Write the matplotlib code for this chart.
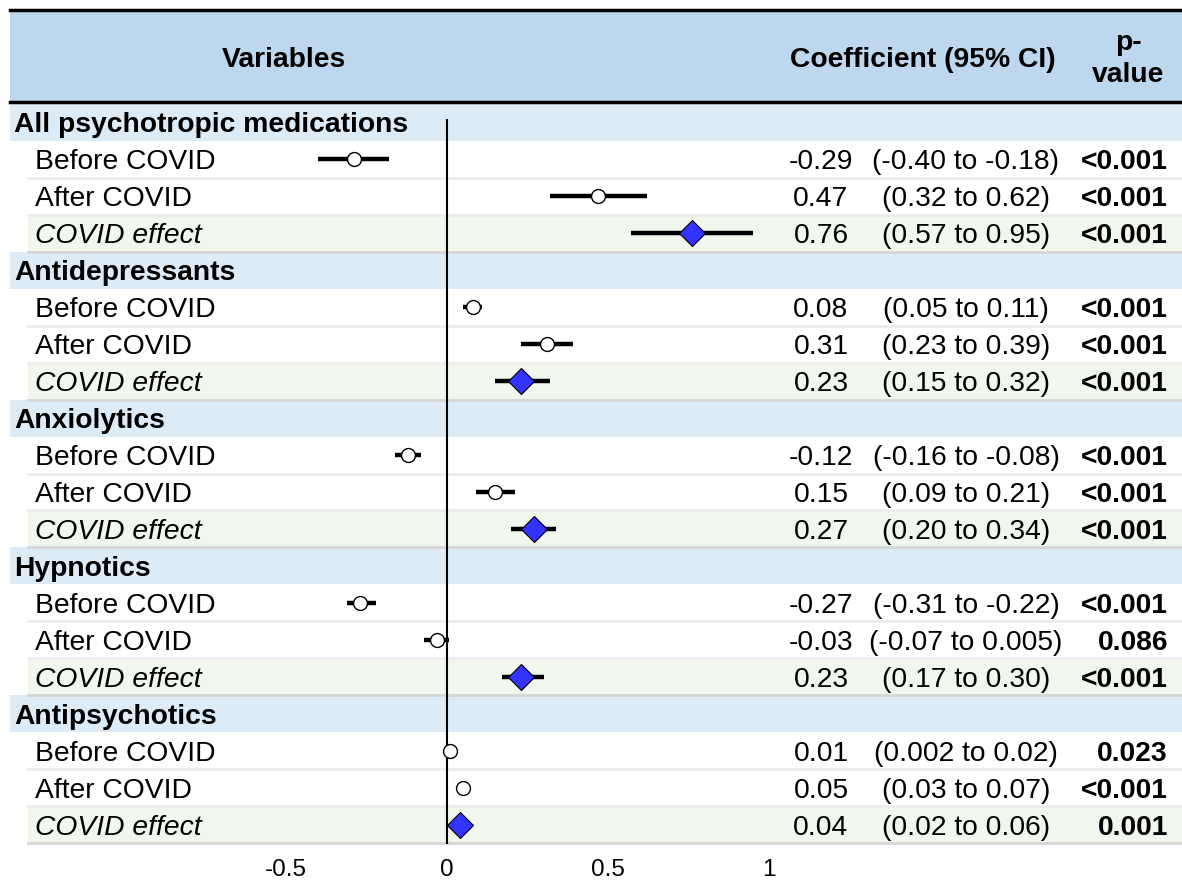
import matplotlib.pyplot as plt
from matplotlib.patches import Rectangle

plt.rcParams['font.family'] = ['Liberation Sans', 'DejaVu Sans']

# data
groups = ["All psychotropic medications", "Antidepressants", "Anxiolytics", "Hypnotics", "Antipsychotics"]
periods = ["Before COVID", "After COVID", "COVID effect"]
coef = [[-0.29, 0.47, 0.76], [0.08, 0.31, 0.23], [-0.12, 0.15, 0.27], [-0.27, -0.03, 0.23], [0.01, 0.05, 0.04]]
lo = [[-0.40, 0.32, 0.57], [0.05, 0.23, 0.15], [-0.16, 0.09, 0.20], [-0.31, -0.07, 0.17], [0.002, 0.03, 0.02]]
hi = [[-0.18, 0.62, 0.95], [0.11, 0.39, 0.32], [-0.08, 0.21, 0.34], [-0.22, 0.005, 0.30], [0.02, 0.07, 0.06]]
coef_txt = [["-0.29", "0.47", "0.76"], ["0.08", "0.31", "0.23"], ["-0.12", "0.15", "0.27"],
            ["-0.27", "-0.03", "0.23"], ["0.01", "0.05", "0.04"]]
ci_txt = [["(-0.40 to -0.18)", "(0.32 to 0.62)", "(0.57 to 0.95)"],
          ["(0.05 to 0.11)", "(0.23 to 0.39)", "(0.15 to 0.32)"],
          ["(-0.16 to -0.08)", "(0.09 to 0.21)", "(0.20 to 0.34)"],
          ["(-0.31 to -0.22)", "(-0.07 to 0.005)", "(0.17 to 0.30)"],
          ["(0.002 to 0.02)", "(0.03 to 0.07)", "(0.02 to 0.06)"]]
p_txt = [["<0.001", "<0.001", "<0.001"], ["<0.001", "<0.001", "<0.001"], ["<0.001", "<0.001", "<0.001"],
         ["<0.001", "0.086", "<0.001"], ["0.023", "<0.001", "0.001"]]
xticks = [-0.5, 0, 0.5, 1]

W, H = 1182, 884
x0_px, unit_px = 447, 322       # pixel of x=0 and pixels per unit
top_px, row_h = 104, 36.95

fig = plt.figure(figsize=(W / 100, H / 100), dpi=100)
bg = fig.add_axes([0, 0, 1, 1])
bg.set_xlim(0, W)
bg.set_ylim(H, 0)
bg.axis('off')

ax = fig.add_axes([0, 0, 1, 1], facecolor='none')
ax.set_xlim(-x0_px / unit_px, (W - x0_px) / unit_px)
ax.set_ylim(H, 0)
ax.axis('off')

fs = 20.3
base = 10   # baseline offset below row centre
# header
bg.add_patch(Rectangle((10, 10), W - 10, 92, color='#BDD7EE', lw=0))
bg.plot([10, W], [10, 10], color='black', lw=2.5)
bg.plot([10, W], [102, 102], color='black', lw=2.5)
bg.text(284, 57 + base, "Variables", ha='center', va='baseline', fontsize=fs, fontweight='bold')
bg.text(923, 57 + base, "Coefficient (95% CI)", ha='center', va='baseline', fontsize=fs, fontweight='bold')
bg.text(1128, 59, "p-\nvalue", ha='center', va='center', fontsize=fs, fontweight='bold', linespacing=1.25)

row = 0
for g, name in enumerate(groups):
    yt = top_px + row * row_h
    bg.add_patch(Rectangle((10, yt), W - 10, row_h, color='#DDEBF7', lw=0))
    bg.text(14, yt + row_h / 2 + base, name, ha='left', va='baseline', fontsize=fs, fontweight='bold')
    row += 1
    for k, per in enumerate(periods):
        yt = top_px + row * row_h
        yc = yt + row_h / 2
        effect = k == 2
        if effect:
            bg.add_patch(Rectangle((28, yt), W - 28, row_h, color='#F2F7EE', lw=0))
            bg.plot([28, W], [yt + row_h, yt + row_h], color='#D6D6D6', lw=2)
        else:
            bg.plot([28, W], [yt + row_h, yt + row_h], color='#ECECEC', lw=2)
        bg.text(35, yc + base, per, ha='left', va='baseline', fontsize=fs,
                fontstyle='italic' if effect else 'normal')
        bg.text(821, yc + base, coef_txt[g][k], ha='center', va='baseline', fontsize=fs)
        bg.text(966, yc + base, ci_txt[g][k], ha='center', va='baseline', fontsize=fs)
        bg.text(1168, yc + base, p_txt[g][k], ha='right', va='baseline', fontsize=fs, fontweight='bold')

        ax.plot([lo[g][k], hi[g][k]], [yc, yc], color='black', lw=3.2, solid_capstyle='butt', zorder=3)
        if effect:
            ax.plot(coef[g][k], yc, marker='D', ms=13.5, mfc='#3333FF', mec='black', mew=0.8, zorder=4)
        else:
            ax.plot(coef[g][k], yc, marker='o', ms=10, mfc='white', mec='black', mew=1, zorder=4)
        row += 1

ax.plot([0, 0], [120, top_px + row * row_h], color='black', lw=1.5, zorder=2)
for t in xticks:
    ax.text(t, 870, f"{t:g}", ha='center', va='center', fontsize=17.5)

fig.savefig("out.png", dpi=100)
